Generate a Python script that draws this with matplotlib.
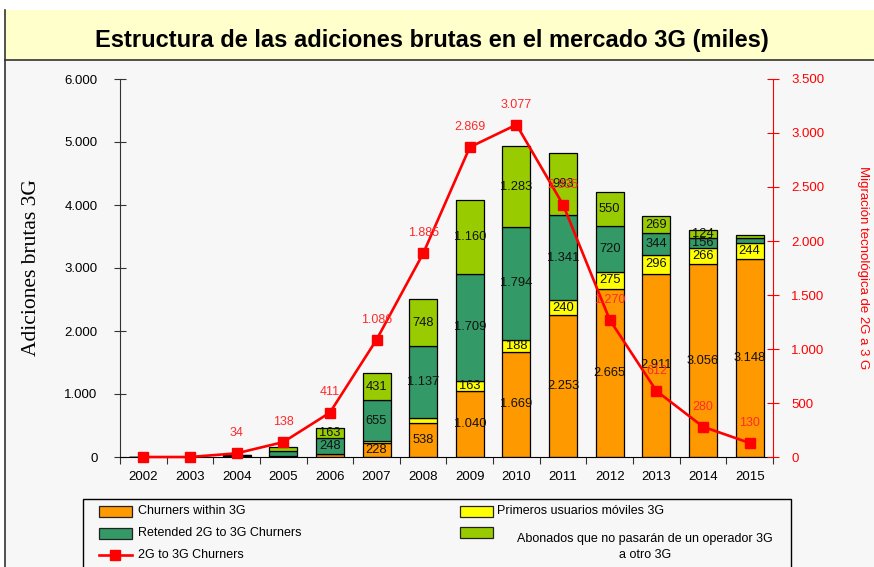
import matplotlib
matplotlib.use('Agg')
import matplotlib.pyplot as plt
from matplotlib.patches import Rectangle
from matplotlib.lines import Line2D
import numpy as np

years = ['2002', '2003', '2004', '2005', '2006', '2007', '2008',
         '2009', '2010', '2011', '2012', '2013', '2014', '2015']
churners_3g = [0, 0, 10, 10, 40, 228, 538, 1040, 1669, 2253, 2665, 2911, 3056, 3148]
primeros = [0, 0, 0, 5, 10, 20, 85, 163, 188, 240, 275, 296, 266, 244]
retended = [0, 0, 15, 80, 248, 655, 1137, 1709, 1794, 1341, 720, 344, 156, 80]
abonados = [0, 0, 10, 60, 163, 431, 748, 1160, 1283, 993, 550, 269, 124, 45]
migracion = [0, 0, 34, 138, 411, 1086, 1885, 2869, 3077, 2335, 1270, 612, 280, 130]

left_ticks = [0, 1000, 2000, 3000, 4000, 5000, 6000]
right_ticks = [0, 500, 1000, 1500, 2000, 2500, 3000, 3500]

series_names = ['Churners within 3G', 'Primeros usuarios móviles 3G',
                'Retended 2G to 3G Churners',
                'Abonados que no pasarán de un operador 3G\na otro 3G']
line_name = '2G to 3G Churners'
colors = ['#FF9900', '#FFFF00', '#339966', '#99CC00']
RED = '#FF0000'
BG = '#F7F7F7'

plt.rcParams['font.family'] = ['Liberation Sans', 'DejaVu Sans']

W, H = 874, 567
fig = plt.figure(figsize=(W / 100, H / 100), dpi=100)
fig.patch.set_facecolor('white')


def fx(x):
    return x / W


def fy(y):
    return 1 - y / H


# background frame
fig.patches.append(Rectangle((fx(5), 0), 1 - fx(5), fy(60), transform=fig.transFigure,
                             facecolor=BG, edgecolor='none', zorder=-10))
fig.patches.append(Rectangle((fx(5), fy(60)), 1 - fx(5), fy(10) - fy(60),
                             transform=fig.transFigure, facecolor='#FFFFCC',
                             edgecolor='none', zorder=-9))
fig.lines.append(Line2D([fx(5), fx(5)], [0, fy(10)], transform=fig.transFigure,
                        color='#333333', lw=1.2))
fig.lines.append(Line2D([fx(5), 1], [fy(60), fy(60)], transform=fig.transFigure,
                        color='#333333', lw=1.2))
fig.text(fx(432), fy(40), 'Estructura de las adiciones brutas en el mercado 3G (miles)',
         ha='center', va='center', fontsize=17, fontweight='bold', color='black')

AXW = 773 - 120
ax = fig.add_axes([fx(120), fy(457), AXW / W, (457 - 79) / H])
ax.set_facecolor(BG)
x = np.arange(len(years))
bw = 0.6
bottom = np.zeros(len(years))
series = [churners_3g, primeros, retended, abonados]
for vals, col in zip(series, colors):
    vals = np.array(vals, dtype=float)
    ax.bar(x, vals, bw, bottom=bottom, color=col, edgecolor='black', linewidth=0.9, zorder=2)
    for xi, v, b in zip(x, vals, bottom):
        if v >= 100:
            ax.text(xi, b + v / 2, f'{int(v):,}'.replace(',', '.'), ha='center', va='center',
                    fontsize=9.3, color='#111111', zorder=3)
    bottom += vals

ax.set_xlim(-0.5, len(years) - 0.5)
ax.set_ylim(0, 6000)
ax.set_yticks(left_ticks)
ax.set_yticklabels([f'{t:,}'.replace(',', '.') for t in left_ticks])
ax.set_xticks(np.arange(-0.5, len(years), 1.0))
ax.set_xticklabels([])
ax.set_xticks(x, minor=True)
ax.set_xticklabels(years, minor=True)
ax.tick_params(axis='x', which='major', direction='out', length=5, color='#333333')
ax.tick_params(axis='x', which='minor', length=0, pad=10, labelsize=9.5)
ax.tick_params(axis='y', direction='inout', length=8.5, pad=12, labelsize=9.5,
               color='#333333')
for s in ['top', 'right']:
    ax.spines[s].set_visible(False)
ax.spines['left'].set_color('#333333')
ax.spines['bottom'].set_color('black')
ax.set_ylabel('Adiciones brutas 3G', fontsize=15.5, family=['Liberation Serif'])
ax.yaxis.set_label_coords((41 - 120) / AXW, 0.5)

ax2 = ax.twinx()
ax2.set_ylim(0, 3500)
ax2.set_yticks(right_ticks)
ax2.set_yticklabels([f'{t:,}'.replace(',', '.') for t in right_ticks])
ax2.tick_params(axis='y', direction='inout', length=8.5, pad=9, labelsize=9.5,
                color=RED, labelcolor=RED)
for s in ['top', 'left', 'bottom']:
    ax2.spines[s].set_visible(False)
ax2.spines['right'].set_color(RED)
ax2.plot(x, migracion, color=RED, lw=1.9, marker='s', markersize=7.5, zorder=5,
         clip_on=False)
for xi, v in zip(x, migracion):
    if v > 0:
        ax2.annotate(f'{v:,}'.replace(',', '.'), (xi, v), xytext=(0, 14.5),
                     textcoords='offset points', ha='center', va='center',
                     fontsize=9, color='#FF2A2A', zorder=6)
ax2.set_ylabel('Migración tecnológica de 2G a 3 G', color=RED, fontsize=9.5,
               rotation=270)
ax2.yaxis.set_label_coords((869 - 120) / AXW, 0.5)

# legend (drawn in figure pixels)
fig.patches.append(Rectangle((fx(83), fy(600)), fx(791) - fx(83), fy(499) - fy(600),
                             transform=fig.transFigure, facecolor=BG,
                             edgecolor='black', lw=1.0, zorder=1))


def handle_rect(xl, yc, col):
    fig.patches.append(Rectangle((fx(xl), fy(yc + 5.5)), fx(33), 11 / H,
                                 transform=fig.transFigure, facecolor=col,
                                 edgecolor='#222222', lw=0.9, zorder=2))


handle_rect(99, 511, colors[0])
fig.text(fx(138), fy(511), series_names[0], ha='left', va='center', fontsize=9)
handle_rect(99, 533, colors[2])
fig.text(fx(138), fy(533), series_names[2], ha='left', va='center', fontsize=9)
fig.lines.append(Line2D([fx(99), fx(132)], [fy(555), fy(555)], transform=fig.transFigure,
                        color=RED, lw=1.9, zorder=3))
fig.lines.append(Line2D([fx(115.5)], [fy(555)], transform=fig.transFigure,
                        color=RED, marker='s', markersize=7.5, linestyle='none', zorder=3))
fig.text(fx(138), fy(555), line_name, ha='left', va='center', fontsize=9)
handle_rect(460, 511, colors[1])
fig.text(fx(497), fy(511), series_names[1], ha='left', va='center', fontsize=9)
handle_rect(460, 532, colors[3])
fig.text(fx(645), fy(547), series_names[3], ha='center', va='center', fontsize=9,
         multialignment='center', linespacing=1.55)

fig.savefig('out.png', dpi=100, facecolor=fig.get_facecolor())
